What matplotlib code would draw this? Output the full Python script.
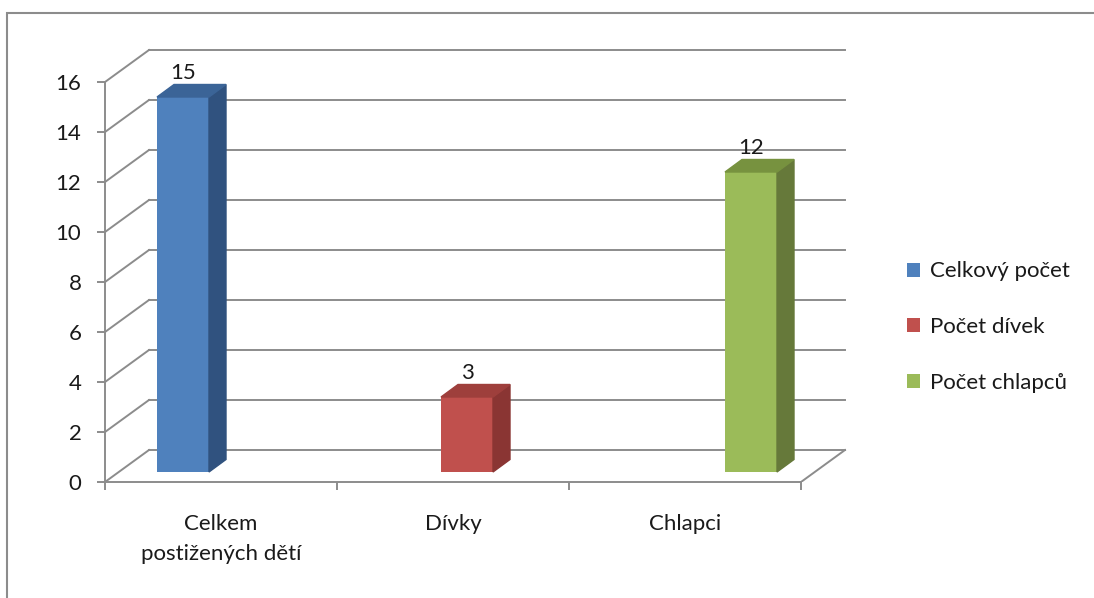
import numpy as np
import matplotlib.pyplot as plt
from matplotlib.patches import Polygon, Rectangle, Patch

categories = ['Celkem\npostižených dětí', 'Dívky', 'Chlapci']
series_names = ['Celkový počet', 'Počet dívek', 'Počet chlapců']
# one value per category for each series (others are zero)
celkovy = [15, 0, 0]
divky = [0, 3, 0]
chlapci = [0, 0, 12]
series_values = [celkovy, divky, chlapci]
y_ticks = [0, 2, 4, 6, 8, 10, 12, 14, 16]

front_colors = ['#4F81BD', '#C0504D', '#9BBB59']
side_colors = ['#30527F', '#8A3533', '#66793A']
top_colors = ['#3B6497', '#9E3F3C', '#77923F']
grid_col = '#8C8C8C'
txt_col = '#1a1a1a'
fs = 16

plt.rcParams['font.family'] = ['Lato', 'DejaVu Sans']

fig = plt.figure(figsize=(10.94, 5.98), dpi=100)
W, H = 1094, 598
# axes mapped so that 1 category = 232 px and 1 unit = 25 px
x_max, y_max = 3.2, 17.4
ax = fig.add_axes([105 / W, 116 / H, x_max * 232 / W, y_max * 25 / H])
ax.set_xlim(0, x_max)
ax.set_ylim(0, y_max)

# depth of the 3d box (back wall offset) and of the bars
back_dx, back_dy = 44 / 232, 32 / 25
bar_dx, bar_dy = 14 / 232, 10 / 25
side_dx, side_dy = 17 / 232, 12.5 / 25
bw = 52 / 232

# walls: back gridlines + side diagonals + floor
for y in y_ticks:
    ax.plot([back_dx, 3 + back_dx], [y + back_dy, y + back_dy], color=grid_col, lw=1.4, zorder=1)
    ax.plot([0, back_dx], [y, y + back_dy], color=grid_col, lw=1.4, zorder=1)
ax.plot([3, 3 + back_dx], [0, back_dy], color=grid_col, lw=1.4, zorder=1)

# bars
for j, vals in enumerate(series_values):
    for i, v in enumerate(vals):
        if v == 0:
            continue
        xc = i + 0.5 + (j - 1) * bw + bar_dx
        x0, x1 = xc - bw / 2, xc + bw / 2
        ax.bar(xc, v, width=bw, bottom=bar_dy, color=front_colors[j], zorder=3)
        top = v + bar_dy
        ax.add_patch(Polygon([(x1, bar_dy), (x1 + side_dx, bar_dy + side_dy),
                              (x1 + side_dx, top + side_dy), (x1, top)],
                             closed=True, color=side_colors[j], zorder=3))
        ax.add_patch(Polygon([(x0, top), (x0 + side_dx, top + side_dy),
                              (x1 + side_dx, top + side_dy), (x1, top)],
                             closed=True, color=top_colors[j], zorder=3))
        ax.annotate(str(v), (xc, top + side_dy), xytext=(0, 1), textcoords='offset points',
                    ha='center', va='bottom', fontsize=fs, color=txt_col)

# axes styling
for s in ['top', 'right']:
    ax.spines[s].set_visible(False)
ax.spines['left'].set_bounds(0, 16)
ax.spines['bottom'].set_bounds(0, 3)
for s in ['left', 'bottom']:
    ax.spines[s].set_color(grid_col)
    ax.spines[s].set_linewidth(1.4)
ax.set_yticks(y_ticks)
ax.tick_params(axis='y', length=6, width=1.4, color=grid_col, labelsize=fs, labelcolor=txt_col, pad=11)
ax.set_xticks([0, 1, 2, 3])
ax.set_xticklabels([])
ax.tick_params(axis='x', which='major', length=6, width=1.4, color=grid_col)
ax.set_xticks([0.5, 1.5, 2.5], minor=True)
ax.set_xticklabels(categories, minor=True, fontsize=fs, color=txt_col, linespacing=1.6, va='top')
ax.tick_params(axis='x', which='minor', length=0, pad=23)

# legend
handles = [Patch(facecolor=c, edgecolor='none') for c in front_colors]
fig.legend(handles, series_names, loc='center left', bbox_to_anchor=(887 / W, 1 - 327 / H),
           frameon=False, fontsize=fs, handlelength=0.6, handleheight=0.6, handletextpad=0.45,
           labelspacing=1.6, labelcolor=txt_col)

# chart frame
fig.add_artist(Rectangle((7 / W, -0.05), 1.2, (H - 13) / H + 0.05, transform=fig.transFigure,
                         fill=False, edgecolor=grid_col, lw=1.5))

fig.savefig('out.png', dpi=100)
